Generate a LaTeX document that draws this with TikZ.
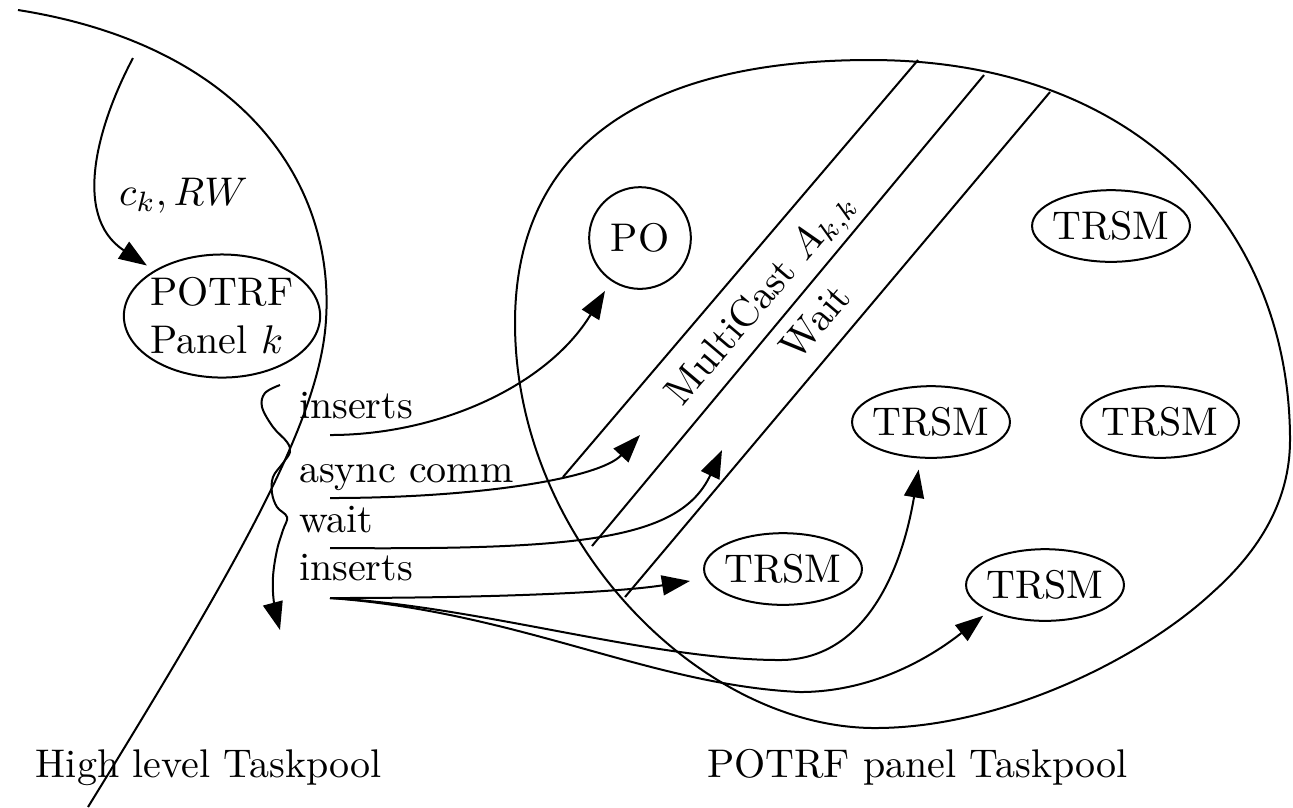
\documentclass[tikz,border=0pt]{standalone}
\usetikzlibrary{arrows.meta,shapes.geometric}
\begin{document}
\begin{tikzpicture}[x=0.25pt,y=-0.25pt,line width=0.5pt,
  arr/.style={-{Triangle[length=7pt,width=5pt]}},
  trsm/.style={draw,ellipse,inner xsep=-0.7pt,inner ysep=2.7pt},
  lbl/.style={inner sep=0pt,anchor=base west}]
\useasboundingbox (0,0) rectangle (1293,807);

% high level pool boundary
\draw (18,10) .. controls (240,45) and (335,180) .. (326,320)
      .. controls (320,420) and (240,560) .. (88,807);

% panel pool boundary
\draw (870,60) .. controls (1140,60) and (1290,230) .. (1290,440)
      .. controls (1290,500) and (1260,550) .. (1213,592)
      .. controls (1140,660) and (1000,728) .. (875,728)
      .. controls (700,728) and (515,540) .. (515,323)
      .. controls (515,150) and (640,60) .. cycle;

% communication band lines
\coordinate (a1) at (918,60);   \coordinate (a2) at (563,477);
\coordinate (b1) at (984,75);   \coordinate (b2) at (592,546);
\coordinate (c1) at (1050,92);  \coordinate (c2) at (625,597);
\draw (a1) -- (a2);
\draw (b1) -- (b2);
\draw (c1) -- (c2);

% nodes
\node[draw,ellipse,align=left,inner xsep=-0.5pt,inner ysep=1.3pt] (potrf) at (222,316) {POTRF\\Panel $k$};
\node[draw,circle,minimum size=23.5pt] (po) at (640,238) {PO};
\node[trsm] (t1) at (1111,226) {TRSM};
\node[trsm] (t2) at (931,422) {TRSM};
\node[trsm] (t3) at (1160,422) {TRSM};
\node[trsm] (t4) at (783,569) {TRSM};
\node[trsm] (t5) at (1045,585) {TRSM};

% labels
\node[lbl] (lck) at (118,205) {$c_k, RW$};
\node[lbl] (lins1) at (298,418) {inserts};
\node[lbl] (lasync) at (298,482) {async comm};
\node[lbl] (lwait) at (298,532) {wait};
\node[lbl] (lins2) at (298,580) {inserts};
\node[lbl] (lhigh) at (35,777) {High level Taskpool};
\node[lbl] (lpanel) at (706,777) {POTRF panel Taskpool};
\node[rotate=49.6] (lmc) at (763,300) {MultiCast $A_{k,k}$};
\node[rotate=49.6] (lw) at (815,322) {Wait};

% arrow anchors
\coordinate (ckstart) at (133,58);
\coordinate (s1) at (330,435);
\coordinate (s2) at (330,498);
\coordinate (s3) at (330,548);
\coordinate (s4) at (330,598);
\coordinate (tipasync) at (640,435);
\coordinate (tipwait) at (722,450);

% arrows
\draw[arr,shorten >=2.2pt] (ckstart) .. controls (100,120) and (70,215) .. (potrf.146.8);
\draw[arr,shorten >=2.9pt] (s1) .. controls (440,435) and (548,385) .. (po.236.8);
\draw[arr] (s2) .. controls (480,498) and (600,478) .. (tipasync);
\draw[arr] (s3) .. controls (580,550) and (680,540) .. (tipwait);
\draw[arr,shorten >=4pt] (s4) .. controls (500,598) and (620,592) .. (t4.187.4);
\draw[arr,shorten >=2.8pt] (s4) .. controls (480,606) and (650,660) .. (780,660)
      .. controls (860,660) and (900,580) .. (t2.254);
\draw[arr,shorten >=1.8pt] (s4) .. controls (520,612) and (650,685) .. (800,692)
      .. controls (880,692) and (940,650) .. (t5.205);

% squiggle
\draw[arr] plot[smooth, tension=0.6] coordinates {
  (280,385) (265,393) (262,407) (273,427) (287,442) (290,452) (283,463)
  (273,477) (272,493) (277,507) (287,517) (283,530) (277,550) (273,577)
  (274,603) (280,630)};
\end{tikzpicture}
\end{document}
